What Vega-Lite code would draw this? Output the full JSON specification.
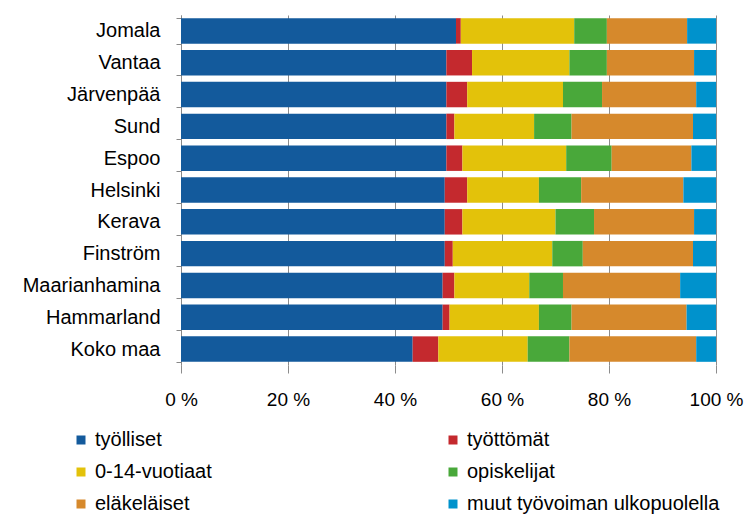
{
  "$schema": "https://vega.github.io/schema/vega-lite/v6.json",
  "autosize": "none",
  "width": 535,
  "height": 350,
  "padding": {"left": 181, "top": 15, "right": 29, "bottom": 154},
  "background": "white",
  "config": {
    "font": "Liberation Sans",
    "view": {"stroke": null}
  },
  "data": {
    "values": [
      {"kunta": "Jomala", "luokka": "työlliset", "k": 1, "arvo": 51.4},
      {"kunta": "Jomala", "luokka": "työttömät", "k": 2, "arvo": 0.9},
      {"kunta": "Jomala", "luokka": "0-14-vuotiaat", "k": 3, "arvo": 21.2},
      {"kunta": "Jomala", "luokka": "opiskelijat", "k": 4, "arvo": 6.1},
      {"kunta": "Jomala", "luokka": "eläkeläiset", "k": 5, "arvo": 15.0},
      {"kunta": "Jomala", "luokka": "muut työvoiman ulkopuolella", "k": 6, "arvo": 5.4},
      {"kunta": "Vantaa", "luokka": "työlliset", "k": 1, "arvo": 49.6},
      {"kunta": "Vantaa", "luokka": "työttömät", "k": 2, "arvo": 4.8},
      {"kunta": "Vantaa", "luokka": "0-14-vuotiaat", "k": 3, "arvo": 18.2},
      {"kunta": "Vantaa", "luokka": "opiskelijat", "k": 4, "arvo": 7.0},
      {"kunta": "Vantaa", "luokka": "eläkeläiset", "k": 5, "arvo": 16.3},
      {"kunta": "Vantaa", "luokka": "muut työvoiman ulkopuolella", "k": 6, "arvo": 4.1},
      {"kunta": "Järvenpää", "luokka": "työlliset", "k": 1, "arvo": 49.6},
      {"kunta": "Järvenpää", "luokka": "työttömät", "k": 2, "arvo": 3.9},
      {"kunta": "Järvenpää", "luokka": "0-14-vuotiaat", "k": 3, "arvo": 17.9},
      {"kunta": "Järvenpää", "luokka": "opiskelijat", "k": 4, "arvo": 7.3},
      {"kunta": "Järvenpää", "luokka": "eläkeläiset", "k": 5, "arvo": 17.6},
      {"kunta": "Järvenpää", "luokka": "muut työvoiman ulkopuolella", "k": 6, "arvo": 3.7},
      {"kunta": "Sund", "luokka": "työlliset", "k": 1, "arvo": 49.6},
      {"kunta": "Sund", "luokka": "työttömät", "k": 2, "arvo": 1.5},
      {"kunta": "Sund", "luokka": "0-14-vuotiaat", "k": 3, "arvo": 14.9},
      {"kunta": "Sund", "luokka": "opiskelijat", "k": 4, "arvo": 7.0},
      {"kunta": "Sund", "luokka": "eläkeläiset", "k": 5, "arvo": 22.7},
      {"kunta": "Sund", "luokka": "muut työvoiman ulkopuolella", "k": 6, "arvo": 4.3},
      {"kunta": "Espoo", "luokka": "työlliset", "k": 1, "arvo": 49.6},
      {"kunta": "Espoo", "luokka": "työttömät", "k": 2, "arvo": 3.0},
      {"kunta": "Espoo", "luokka": "0-14-vuotiaat", "k": 3, "arvo": 19.4},
      {"kunta": "Espoo", "luokka": "opiskelijat", "k": 4, "arvo": 8.5},
      {"kunta": "Espoo", "luokka": "eläkeläiset", "k": 5, "arvo": 14.9},
      {"kunta": "Espoo", "luokka": "muut työvoiman ulkopuolella", "k": 6, "arvo": 4.6},
      {"kunta": "Helsinki", "luokka": "työlliset", "k": 1, "arvo": 49.3},
      {"kunta": "Helsinki", "luokka": "työttömät", "k": 2, "arvo": 4.2},
      {"kunta": "Helsinki", "luokka": "0-14-vuotiaat", "k": 3, "arvo": 13.4},
      {"kunta": "Helsinki", "luokka": "opiskelijat", "k": 4, "arvo": 7.9},
      {"kunta": "Helsinki", "luokka": "eläkeläiset", "k": 5, "arvo": 19.1},
      {"kunta": "Helsinki", "luokka": "muut työvoiman ulkopuolella", "k": 6, "arvo": 6.1},
      {"kunta": "Kerava", "luokka": "työlliset", "k": 1, "arvo": 49.3},
      {"kunta": "Kerava", "luokka": "työttömät", "k": 2, "arvo": 3.3},
      {"kunta": "Kerava", "luokka": "0-14-vuotiaat", "k": 3, "arvo": 17.4},
      {"kunta": "Kerava", "luokka": "opiskelijat", "k": 4, "arvo": 7.2},
      {"kunta": "Kerava", "luokka": "eläkeläiset", "k": 5, "arvo": 18.7},
      {"kunta": "Kerava", "luokka": "muut työvoiman ulkopuolella", "k": 6, "arvo": 4.1},
      {"kunta": "Finström", "luokka": "työlliset", "k": 1, "arvo": 49.3},
      {"kunta": "Finström", "luokka": "työttömät", "k": 2, "arvo": 1.5},
      {"kunta": "Finström", "luokka": "0-14-vuotiaat", "k": 3, "arvo": 18.6},
      {"kunta": "Finström", "luokka": "opiskelijat", "k": 4, "arvo": 5.7},
      {"kunta": "Finström", "luokka": "eläkeläiset", "k": 5, "arvo": 20.6},
      {"kunta": "Finström", "luokka": "muut työvoiman ulkopuolella", "k": 6, "arvo": 4.3},
      {"kunta": "Maarianhamina", "luokka": "työlliset", "k": 1, "arvo": 48.9},
      {"kunta": "Maarianhamina", "luokka": "työttömät", "k": 2, "arvo": 2.2},
      {"kunta": "Maarianhamina", "luokka": "0-14-vuotiaat", "k": 3, "arvo": 14.0},
      {"kunta": "Maarianhamina", "luokka": "opiskelijat", "k": 4, "arvo": 6.3},
      {"kunta": "Maarianhamina", "luokka": "eläkeläiset", "k": 5, "arvo": 21.9},
      {"kunta": "Maarianhamina", "luokka": "muut työvoiman ulkopuolella", "k": 6, "arvo": 6.7},
      {"kunta": "Hammarland", "luokka": "työlliset", "k": 1, "arvo": 48.9},
      {"kunta": "Hammarland", "luokka": "työttömät", "k": 2, "arvo": 1.3},
      {"kunta": "Hammarland", "luokka": "0-14-vuotiaat", "k": 3, "arvo": 16.7},
      {"kunta": "Hammarland", "luokka": "opiskelijat", "k": 4, "arvo": 6.1},
      {"kunta": "Hammarland", "luokka": "eläkeläiset", "k": 5, "arvo": 21.5},
      {"kunta": "Hammarland", "luokka": "muut työvoiman ulkopuolella", "k": 6, "arvo": 5.5},
      {"kunta": "Koko maa", "luokka": "työlliset", "k": 1, "arvo": 43.3},
      {"kunta": "Koko maa", "luokka": "työttömät", "k": 2, "arvo": 4.8},
      {"kunta": "Koko maa", "luokka": "0-14-vuotiaat", "k": 3, "arvo": 16.7},
      {"kunta": "Koko maa", "luokka": "opiskelijat", "k": 4, "arvo": 7.8},
      {"kunta": "Koko maa", "luokka": "eläkeläiset", "k": 5, "arvo": 23.7},
      {"kunta": "Koko maa", "luokka": "muut työvoiman ulkopuolella", "k": 6, "arvo": 3.7}
    ]
  },
  "mark": {"type": "bar"},
  "encoding": {
    "y": {
      "field": "kunta",
      "type": "nominal",
      "sort": null,
      "scale": {"paddingInner": 0.2, "paddingOuter": 0.1},
      "axis": {
        "title": null,
        "domainColor": "#888888",
        "tickColor": "#888888",
        "tickBand": "extent",
        "tickSize": 5,
        "labelPadding": 16,
        "labelFontSize": 20,
        "labelColor": "#000000",
        "labelFont": "Liberation Sans"
      }
    },
    "x": {
      "field": "arvo",
      "type": "quantitative",
      "stack": "normalize",
      "scale": {"domain": [0, 1], "nice": false},
      "axis": {
        "title": null,
        "values": [0, 0.2, 0.4, 0.6, 0.8, 1],
        "labelExpr": "format(datum.value * 100, 'd') + ' %'",
        "domain": false,
        "grid": true,
        "gridColor": "#8c8c8c",
        "tickColor": "#8c8c8c",
        "tickSize": 8,
        "labelPadding": 17,
        "labelFontSize": 19,
        "labelColor": "#000000",
        "labelFont": "Liberation Sans",
        "labelFlush": false
      }
    },
    "color": {
      "field": "luokka",
      "type": "nominal",
      "scale": {
        "domain": ["työlliset", "työttömät", "0-14-vuotiaat", "opiskelijat", "eläkeläiset", "muut työvoiman ulkopuolella"],
        "range": ["#135a9c", "#c4292e", "#e3c20a", "#49a83a", "#d6892c", "#0092cc"]
      },
      "legend": {
        "title": null,
        "orient": "none",
        "legendX": -110,
        "legendY": 415,
        "direction": "horizontal",
        "columns": 2,
        "columnPadding": 231,
        "rowPadding": 12,
        "symbolType": "square",
        "symbolSize": 81,
        "symbolStrokeWidth": 0,
        "labelFontSize": 20,
        "labelFont": "Liberation Sans",
        "labelColor": "#000000",
        "labelOffset": 4,
        "labelLimit": 400
      }
    },
    "order": {"field": "k", "type": "quantitative"}
  }
}
